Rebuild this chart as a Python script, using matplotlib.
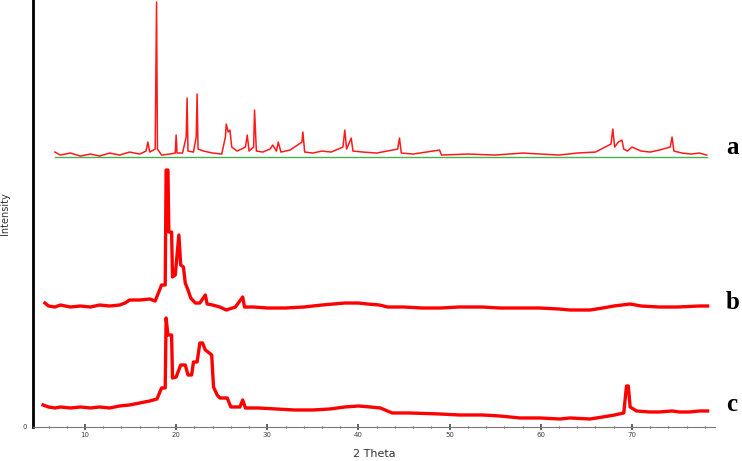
import numpy as np
import matplotlib
matplotlib.use("Agg")
import matplotlib.pyplot as plt
from matplotlib.ticker import MultipleLocator

# --- data (2 theta in degrees, intensity in arbitrary units) ---
a_x = [6.7, 7.3, 8.4, 9.5, 10.6, 11.6, 12.7, 13.8, 14.9, 16.0, 16.7, 16.9, 17.1, 17.7, 17.85, 17.95,
       18.4, 19.3, 19.9, 20.0, 20.1, 20.7, 21.1, 21.2, 21.3, 21.9, 22.2, 22.3, 22.4, 23.0, 24.0, 25.0,
       25.4, 25.5, 25.7, 25.9, 26.1, 26.7, 27.6, 27.8, 28.0, 28.5, 28.6, 28.8, 29.5, 30.3, 30.6, 31.0,
       31.2, 31.5, 32.5, 33.8, 33.9, 34.1, 35.0, 36.0, 37.0, 38.3, 38.5, 38.7, 39.2, 39.4, 40.5, 42.0,
       44.3, 44.5, 44.7, 46.0, 48.9, 49.1, 52.0, 55.0, 58.0, 60.0, 62.0, 64.0, 66.0, 67.7, 67.9, 68.1,
       68.5, 68.9, 69.1, 69.5, 70.0, 71.0, 72.0, 73.0, 74.2, 74.4, 74.6, 75.5, 76.5, 77.4, 78.2]
a_y = [275, 272, 274, 271, 273, 271, 274, 272, 275, 273, 276, 285, 275, 278, 425, 278,
       272, 273, 274, 292, 274, 274, 290, 329, 276, 275, 290, 333, 278, 276, 274, 273,
       290, 303, 295, 297, 280, 276, 280, 292, 276, 280, 317, 276, 275, 278, 282, 276,
       285, 275, 277, 285, 295, 275, 274, 276, 275, 280, 297, 278, 289, 276, 275, 274,
       278, 289, 274, 273, 277, 272, 273, 272, 274, 273, 272, 274, 275, 283, 298, 280,
       285, 287, 278, 276, 280, 276, 275, 277, 280, 290, 276, 274, 273, 274, 272]

a_bg_x = [6.7, 20.0, 35.0, 50.0, 65.0, 78.2]
a_bg_y = [270, 270, 270, 270, 270, 270]

b_x = [5.6, 6.0, 6.7, 7.3, 8.4, 9.5, 10.6, 11.6, 12.7, 13.8, 14.4, 14.9, 16.0, 17.1, 17.7, 18.4,
       18.8, 18.9, 19.1, 19.2, 19.5, 19.6, 19.9, 20.0, 20.3, 20.5, 20.8, 21.0, 21.3, 21.6, 22.1,
       22.6, 23.2, 23.4, 24.0, 24.8, 25.5, 26.5, 27.3, 27.5, 28.5, 30.0, 32.0, 34.0, 36.0, 38.5,
       40.0, 41.0, 42.3, 43.2, 45.0, 47.0, 49.0, 51.0, 53.6, 55.5, 57.7, 59.9, 62.0, 63.2, 65.4,
       66.8, 68.0, 69.8, 71.0, 73.0, 75.0, 77.4, 78.3]
b_y = [124, 121, 120, 122, 120, 121, 120, 122, 121, 122, 124, 127, 127, 128, 126, 142,
       142, 257, 257, 195, 195, 150, 152, 162, 192, 162, 160, 144, 137, 129, 124,
       124, 132, 123, 122, 120, 117, 120, 130, 120, 120, 119, 119, 120, 122, 124,
       124, 123, 122, 120, 120, 119, 119, 120, 120, 119, 119, 119, 118, 117, 117,
       119, 121, 123, 121, 120, 120, 121, 121]

c_x = [5.4, 6.0, 6.7, 7.3, 8.4, 9.5, 10.6, 11.6, 12.7, 13.8, 14.9, 16.0, 17.1, 17.9, 18.4, 18.8,
       18.9, 19.1, 19.5, 19.6, 20.0, 20.5, 21.0, 21.3, 21.7, 21.9, 22.3, 22.6, 22.9, 23.2, 23.5,
       23.9, 24.1, 24.5, 24.8, 25.6, 26.0, 27.0, 27.3, 27.6, 29.0, 31.0, 33.0, 35.0, 36.9, 38.5,
       40.0, 41.3, 42.4, 43.7, 45.6, 48.9, 51.1, 53.6, 55.5, 57.7, 59.9, 62.1, 63.2, 65.4, 66.8,
       68.1, 69.1, 69.4, 69.6, 69.8, 70.5, 71.9, 73.0, 74.4, 75.2, 76.3, 77.4, 78.3]
c_y = [22, 20, 19, 20, 19, 20, 19, 20, 19, 21, 22, 24, 26, 28, 39, 39,
       109, 92, 92, 49, 50, 62, 62, 52, 52, 65, 65, 84, 84, 77, 75,
       72, 40, 32, 29, 29, 20, 20, 27, 19, 19, 18, 17, 17, 18, 20,
       21, 20, 19, 14, 14, 13, 12, 12, 11, 9, 9, 8, 9, 8, 10,
       12, 14, 41, 41, 20, 16, 15, 15, 16, 15, 15, 16, 16]

labels = ["a", "b", "c"]
label_y = [280, 125, 22]

fig = plt.figure(figsize=(7.42, 4.61), dpi=100)
ax = fig.add_axes([0.0445, 0.0738, 0.919, 0.926])

ax.plot(a_bg_x, a_bg_y, color="#4caf50", lw=1.0)
ax.plot(a_x, a_y, color="#ff1a1a", lw=1.1)
ax.plot(b_x, b_y, color="#ff0000", lw=2.4)
ax.plot(c_x, c_y, color="#ff0000", lw=2.4)

for lab, yy in zip(labels, label_y):
    ax.text(80.3, yy, lab, fontsize=18, family="Liberation Serif", fontweight="bold",
            ha="left", va="center", clip_on=False)

ax.set_xlim(4.3, 79.1)
ax.set_ylim(0, 427)

ax.spines["top"].set_visible(False)
ax.spines["right"].set_visible(False)
ax.spines["left"].set_linewidth(2.0)
ax.spines["left"].set_color("black")
ax.spines["bottom"].set_color("#777777")
ax.spines["bottom"].set_linewidth(0.8)

ax.xaxis.set_major_locator(MultipleLocator(10))
ax.xaxis.set_minor_locator(MultipleLocator(2))
ax.tick_params(axis="x", which="major", direction="inout", length=5, width=1.2, color="#444444",
               labelsize=5, labelcolor="#444444", pad=1)
ax.tick_params(axis="x", which="minor", direction="inout", length=2, width=0.8, color="#555555")
ax.set_yticks([0])
ax.tick_params(axis="y", length=0, labelsize=5, labelcolor="#444444", pad=4)

ax.set_xlabel("2 Theta", fontsize=8, color="#333333", labelpad=8)
ax.set_ylabel("Intensity", fontsize=7, color="#333333")
ax.yaxis.set_label_coords(-0.034, 0.5)

fig.savefig("out.png", dpi=100)
